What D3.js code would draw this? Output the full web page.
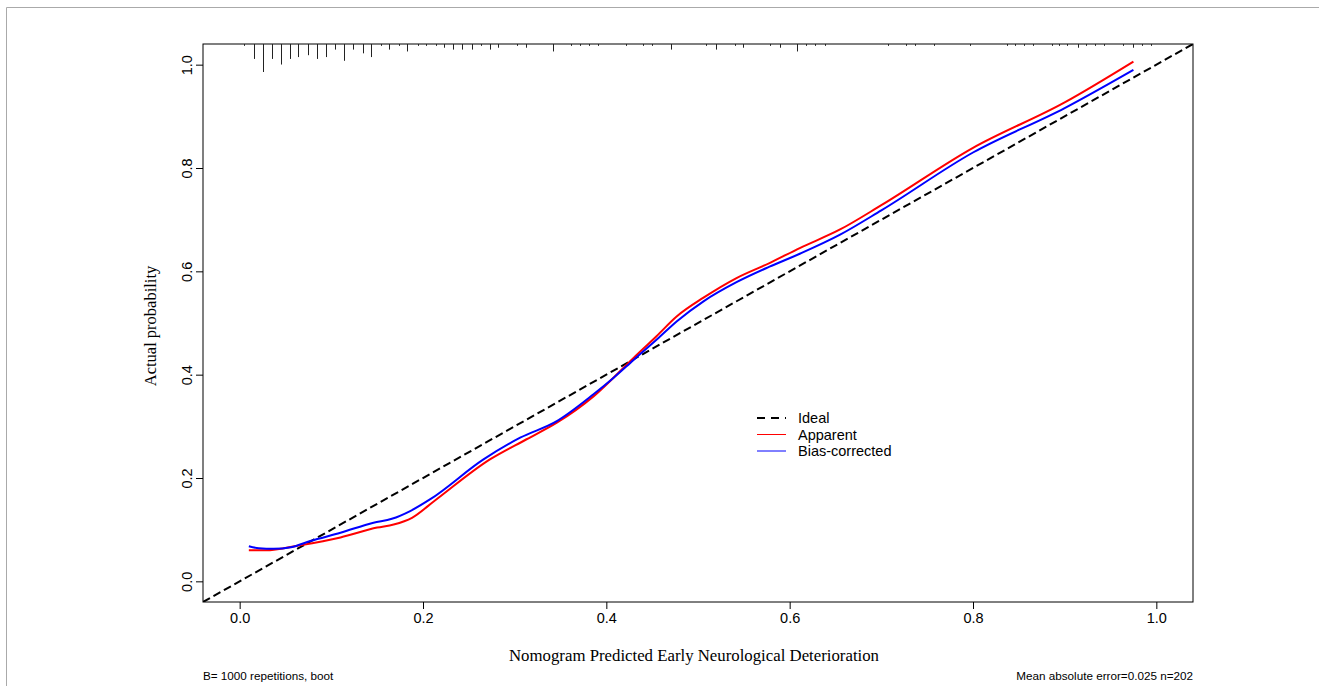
<!DOCTYPE html>
<html>
<head>
<meta charset="utf-8">
<script src="https://cdn.jsdelivr.net/npm/d3@7"></script>
<style>
  body { margin: 0; background: #fff; }
</style>
</head>
<body>
<div id="chart"></div>
<script>
// calibration curve values
const apparentX = [0.01, 0.028, 0.066, 0.110, 0.150, 0.168, 0.188, 0.212, 0.273, 0.313, 0.346, 0.386, 0.430, 0.455, 0.477, 0.506, 0.542, 0.578, 0.611, 0.655, 0.700, 0.800, 0.900, 0.975];
const apparentY = [0.060, 0.060, 0.070, 0.085, 0.104, 0.110, 0.123, 0.155, 0.236, 0.275, 0.307, 0.358, 0.433, 0.475, 0.513, 0.549, 0.587, 0.616, 0.645, 0.681, 0.728, 0.839, 0.927, 1.006];

const biasX = [0.01, 0.021, 0.037, 0.056, 0.077, 0.110, 0.146, 0.166, 0.186, 0.208, 0.266, 0.306, 0.346, 0.386, 0.408, 0.430, 0.455, 0.477, 0.506, 0.542, 0.578, 0.611, 0.655, 0.700, 0.800, 0.900, 0.975];
const biasY = [0.068, 0.064, 0.063, 0.066, 0.078, 0.094, 0.1135, 0.121, 0.136, 0.159, 0.236, 0.278, 0.310, 0.362, 0.394, 0.429, 0.468, 0.5035, 0.542, 0.579, 0.609, 0.634, 0.671, 0.718, 0.830, 0.916, 0.990];

// rug of predicted values (top of plot), relative frequency per bin
const rugX = [0.005, 0.016, 0.025, 0.035, 0.045, 0.055, 0.064, 0.075, 0.084, 0.094, 0.104, 0.114, 0.124, 0.134, 0.143, 0.154, 0.163, 0.174, 0.183, 0.194, 0.203, 0.214, 0.223, 0.233, 0.243, 0.253, 0.263, 0.273, 0.282, 0.303, 0.312, 0.342, 0.361, 0.371, 0.381, 0.391,
  0.421, 0.440, 0.450, 0.470, 0.509, 0.520, 0.540, 0.549, 0.579, 0.589, 0.608, 0.618, 0.628, 0.638, 0.707, 0.727, 0.737, 0.757, 0.797,
  0.837, 0.846, 0.856, 0.865, 0.886, 0.894, 0.903, 0.914, 0.923, 0.933, 0.943, 0.964, 0.974, 0.984, 0.994];
const rugFreq = [1, 8, 15, 8, 11, 8, 7, 6, 8, 7, 3, 9, 3, 5, 7, 1, 3, 1, 4, 1, 1, 1, 2, 3, 3, 3, 1, 3, 2, 1, 2, 4, 1, 1, 1, 1,
  1, 1, 1, 3, 1, 3, 1, 2, 1, 2, 4, 1, 1, 1, 1, 1, 1, 1, 1,
  1, 1, 1, 1, 1, 1, 1, 2, 1, 1, 1, 1, 2, 1, 1];

const xTicks = [0, 0.2, 0.4, 0.6, 0.8, 1.0];
const yTicks = [0, 0.2, 0.4, 0.6, 0.8, 1.0];
const legendItems = ["Ideal", "Apparent", "Bias-corrected"];

const width = 1319, height = 686;
const plot = { left: 203, right: 1193, top: 44, bottom: 602 };

const svg = d3.select("#chart")
  .append("svg")
  .attr("width", width)
  .attr("height", height);

svg.append("rect").attr("width", width).attr("height", height).attr("fill", "#fff");

// outer grey frame of the figure
svg.append("path")
  .attr("d", `M6.5,${height} V7.5 H${width}`)
  .attr("fill", "none")
  .attr("stroke", "#aaa")
  .attr("stroke-width", 1);

const x = d3.scaleLinear().domain([-0.04, 1.04]).range([plot.left, plot.right]);
const y = d3.scaleLinear().domain([-0.04, 1.04]).range([plot.bottom, plot.top]);

svg.append("clipPath").attr("id", "clip")
  .append("rect")
  .attr("x", plot.left).attr("y", plot.top)
  .attr("width", plot.right - plot.left).attr("height", plot.bottom - plot.top);

// axes
const xAxis = svg.append("g")
  .attr("transform", `translate(0, ${plot.bottom})`)
  .call(d3.axisBottom(x).tickValues(xTicks).tickSize(7).tickSizeOuter(0).tickPadding(4).tickFormat(d3.format(".1f")));
xAxis.select(".domain").remove();
xAxis.selectAll(".tick line").attr("stroke", "#000");
xAxis.selectAll(".tick text")
  .attr("font-family", "Liberation Sans, Arial, sans-serif")
  .attr("font-size", "14.5px")
  .attr("fill", "#000");

const yAxis = svg.append("g")
  .attr("transform", `translate(${plot.left}, 0)`)
  .call(d3.axisLeft(y).tickValues(yTicks).tickSize(7).tickSizeOuter(0).tickFormat(d3.format(".1f")));
yAxis.select(".domain").remove();
yAxis.selectAll(".tick line").attr("stroke", "#000");
yAxis.selectAll(".tick text")
  .attr("transform", "rotate(-90)")
  .attr("x", 0)
  .attr("y", -11)
  .attr("dy", 0)
  .attr("text-anchor", "middle")
  .attr("font-family", "Liberation Sans, Arial, sans-serif")
  .attr("font-size", "14.5px")
  .attr("fill", "#000");

// box
svg.append("rect")
  .attr("x", plot.left).attr("y", plot.top)
  .attr("width", plot.right - plot.left).attr("height", plot.bottom - plot.top)
  .attr("fill", "none")
  .attr("stroke", "#000")
  .attr("stroke-width", 1);

// rug
const rugLen = d3.scaleLinear().domain([0, 15]).range([0, 28]);
svg.append("g").selectAll("line")
  .data(rugX.map((v, i) => ({ v: v, f: rugFreq[i] })))
  .join("line")
  .attr("x1", d => Math.round(x(d.v)) + 0.5)
  .attr("x2", d => Math.round(x(d.v)) + 0.5)
  .attr("y1", plot.top)
  .attr("y2", d => plot.top + rugLen(d.f))
  .attr("stroke", "#222")
  .attr("stroke-width", 1);

const line = d3.line()
  .x(d => x(d[0]))
  .y(d => y(d[1]))
  .curve(d3.curveMonotoneX);

const g = svg.append("g").attr("clip-path", "url(#clip)");

// ideal diagonal
g.append("path")
  .datum([[-0.04, -0.04], [1.04, 1.04]])
  .attr("d", d3.line().x(d => x(d[0])).y(d => y(d[1])))
  .attr("fill", "none")
  .attr("stroke", "#000")
  .attr("stroke-width", 2)
  .attr("stroke-dasharray", "8,4");

g.append("path")
  .datum(apparentX.map((v, i) => [v, apparentY[i]]))
  .attr("d", line)
  .attr("fill", "none")
  .attr("stroke", "#ff0000")
  .attr("stroke-width", 2);

g.append("path")
  .datum(biasX.map((v, i) => [v, biasY[i]]))
  .attr("d", line)
  .attr("fill", "none")
  .attr("stroke", "#0000ff")
  .attr("stroke-width", 2);

// legend
const legendColors = ["#000", "#ff0000", "#0000ff"];
const leg = svg.append("g").attr("transform", "translate(757, 418)");
legendItems.forEach((name, i) => {
  leg.append("line")
    .attr("x1", 0).attr("x2", 29)
    .attr("y1", i * 16.5).attr("y2", i * 16.5)
    .attr("stroke", legendColors[i])
    .attr("stroke-width", i === 0 ? 2 : 1)
    .attr("stroke-dasharray", i === 0 ? "8,6" : null);
  leg.append("text")
    .attr("x", 41)
    .attr("y", i * 16.5)
    .attr("dy", "0.35em")
    .attr("font-family", "Liberation Sans, Arial, sans-serif")
    .attr("font-size", "14.5px")
    .attr("fill", "#000")
    .text(name);
});

// axis titles
svg.append("text")
  .attr("x", (plot.left + plot.right) / 2 - 4)
  .attr("y", 661)
  .attr("text-anchor", "middle")
  .attr("font-family", "Liberation Serif, Times New Roman, serif")
  .attr("font-size", "16.8px")
  .attr("fill", "#000")
  .text("Nomogram Predicted Early Neurological Deterioration");

svg.append("text")
  .attr("transform", `translate(156, ${(plot.top + plot.bottom) / 2 + 3}) rotate(-90)`)
  .attr("text-anchor", "middle")
  .attr("font-family", "Liberation Serif, Times New Roman, serif")
  .attr("font-size", "16.5px")
  .attr("fill", "#000")
  .text("Actual probability");

// footnotes
svg.append("text")
  .attr("x", plot.left)
  .attr("y", 680)
  .attr("font-family", "Liberation Sans, Arial, sans-serif")
  .attr("font-size", "11.7px")
  .attr("fill", "#000")
  .text("B= 1000 repetitions, boot");

svg.append("text")
  .attr("x", plot.right)
  .attr("y", 680)
  .attr("text-anchor", "end")
  .attr("font-family", "Liberation Sans, Arial, sans-serif")
  .attr("font-size", "11.7px")
  .attr("fill", "#000")
  .text("Mean absolute error=0.025 n=202");
</script>
</body>
</html>
